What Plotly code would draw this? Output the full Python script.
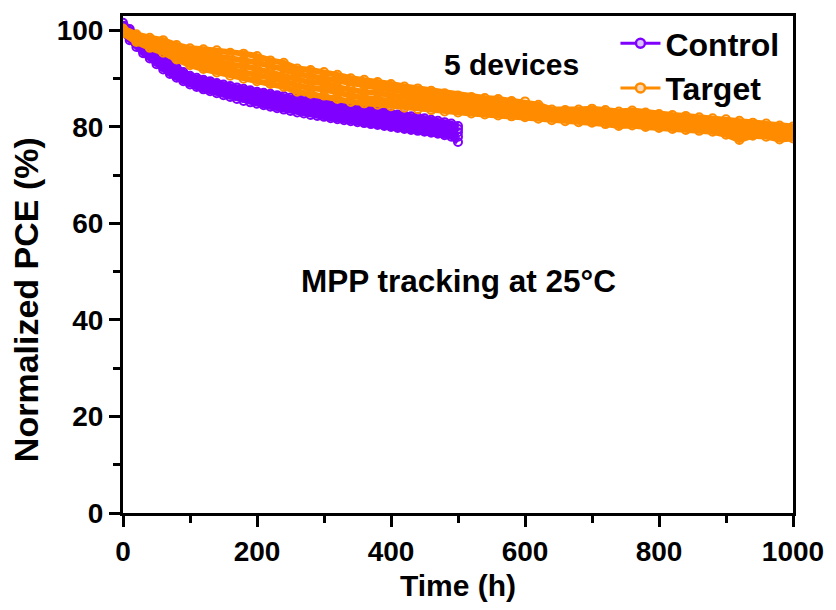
import plotly.graph_objects as go

# ---------------- data ----------------
time_control = [0, 10, 20, 30, 40, 50, 60, 70, 80, 90, 100, 110, 120, 130, 140, 150, 160, 170, 180, 190,
                200, 210, 220, 230, 240, 250, 260, 270, 280, 290, 300, 310, 320, 330, 340, 350, 360, 370, 380, 390,
                400, 410, 420, 430, 440, 450, 460, 470, 480, 490, 500]

control_1 = [101.6, 100.3, 99.0, 97.8, 96.6, 95.3, 94.2, 93.2, 92.3, 91.4, 90.6, 90.2, 89.8, 89.5, 89.1, 88.8, 88.5, 88.2, 87.9, 87.6,
             87.3, 87.1, 86.9, 86.6, 86.4, 86.1, 85.9, 85.7, 85.4, 85.2, 84.9, 84.7, 84.5, 84.2, 84.0, 83.8, 83.6, 83.4, 83.2, 83.0,
             82.8, 82.6, 82.4, 82.2, 82.0, 81.8, 81.5, 81.3, 81.0, 80.7, 80.2]
control_2 = [101.0, 99.8, 98.4, 97.2, 96.0, 94.7, 93.6, 92.7, 91.8, 90.9, 90.2, 89.7, 89.3, 89.0, 88.6, 88.2, 87.9, 87.6, 87.2, 86.9,
             86.6, 86.5, 86.2, 85.9, 85.7, 85.4, 85.2, 84.9, 84.7, 84.4, 84.2, 83.9, 83.7, 83.5, 83.3, 83.1, 82.9, 82.7, 82.5, 82.3,
             82.1, 81.9, 81.7, 81.5, 81.3, 81.1, 80.8, 80.6, 80.4, 80.1, 79.6]
control_3 = [100.5, 99.1, 97.8, 96.5, 95.4, 94.1, 93.0, 92.1, 91.2, 90.4, 89.7, 89.2, 88.8, 88.4, 88.0, 87.7, 87.3, 87.0, 86.6, 86.3,
             86.0, 85.8, 85.5, 85.2, 85.0, 84.7, 84.4, 84.2, 83.9, 83.7, 83.5, 83.2, 83.0, 82.8, 82.6, 82.4, 82.2, 82.0, 81.8, 81.6,
             81.4, 81.2, 81.0, 80.8, 80.6, 80.4, 80.1, 79.9, 79.7, 79.4, 78.9]
control_4 = [100.0, 98.5, 97.2, 95.9, 94.8, 93.5, 92.4, 91.5, 90.7, 89.9, 89.2, 88.7, 88.3, 87.9, 87.5, 87.1, 86.7, 86.4, 86.0, 85.7,
             85.4, 85.1, 84.8, 84.5, 84.3, 84.0, 83.7, 83.5, 83.2, 83.0, 82.8, 82.5, 82.3, 82.1, 81.9, 81.7, 81.5, 81.3, 81.1, 80.9,
             80.7, 80.5, 80.3, 80.1, 79.9, 79.7, 79.4, 79.2, 79.0, 78.7, 78.0]
control_5 = [99.5, 98.0, 96.6, 95.3, 94.2, 93.0, 91.9, 91.0, 90.2, 89.5, 88.8, 88.3, 87.8, 87.4, 87.0, 86.6, 86.2, 85.8, 85.4, 85.1,
             84.8, 84.5, 84.2, 83.9, 83.6, 83.3, 83.0, 82.8, 82.5, 82.3, 82.1, 81.8, 81.6, 81.4, 81.2, 81.0, 80.8, 80.6, 80.4, 80.2,
             80.0, 79.8, 79.6, 79.4, 79.2, 79.0, 78.8, 78.6, 78.3, 78.0, 76.9]

time_target = [0, 20, 40, 60, 80, 100, 120, 140, 160, 180, 200, 220, 240, 260, 280, 300, 320, 340, 360, 380,
               400, 420, 440, 460, 480, 500, 520, 540, 560, 580, 600, 620, 640, 660, 680, 700, 720, 740, 760, 780,
               800, 820, 840, 860, 880, 900, 920, 940, 960, 980, 1000]

target_1 = [100.4, 99.2, 98.5, 98.0, 97.0, 96.3, 96.1, 95.9, 95.4, 95.2, 94.7, 93.8, 93.3, 92.1, 91.8, 91.4, 90.8, 90.1, 89.8, 89.3,
            88.9, 88.4, 88.0, 87.5, 87.0, 86.5, 86.2, 86.0, 85.8, 85.4, 85.3, 84.6, 83.6, 83.5, 83.6, 83.8, 83.5, 83.2, 83.4, 83.0,
            82.7, 82.5, 82.3, 82.0, 81.8, 81.6, 81.3, 80.9, 80.7, 80.3, 80.1]
target_2 = [100.2, 98.9, 97.9, 97.3, 96.3, 95.4, 95.1, 94.7, 94.2, 93.9, 93.4, 92.6, 92.0, 91.0, 90.5, 90.2, 89.5, 88.9, 88.6, 88.2,
            87.7, 87.4, 86.8, 86.6, 86.0, 85.7, 85.3, 85.2, 84.9, 84.6, 84.4, 83.9, 83.0, 83.0, 82.9, 83.1, 82.7, 82.5, 82.5, 82.3,
            81.9, 81.8, 81.5, 81.3, 81.0, 80.8, 80.3, 80.3, 79.9, 79.6, 79.4]
target_3 = [100.0, 98.5, 97.3, 96.8, 95.4, 94.7, 94.0, 93.7, 92.9, 92.7, 92.0, 91.5, 90.7, 89.8, 89.2, 89.1, 88.2, 87.8, 87.2, 87.1,
            86.5, 86.3, 85.7, 85.6, 85.0, 84.9, 84.4, 84.4, 84.0, 83.9, 83.5, 83.2, 82.4, 82.5, 82.2, 82.5, 81.9, 81.8, 81.7, 81.6,
            81.1, 81.1, 80.7, 80.7, 80.3, 80.1, 79.2, 79.7, 79.2, 79.0, 78.7]
target_4 = [99.7, 98.0, 96.9, 96.1, 94.7, 93.8, 93.0, 92.5, 91.8, 91.3, 90.8, 90.2, 89.5, 88.6, 88.0, 87.8, 87.0, 86.5, 86.0, 85.8,
            85.4, 85.1, 84.7, 84.5, 84.1, 83.9, 83.6, 83.5, 83.2, 83.0, 82.8, 82.4, 81.9, 81.8, 81.6, 81.7, 81.2, 81.0, 81.0, 80.8,
            80.4, 80.3, 80.0, 79.9, 79.6, 79.2, 78.5, 78.9, 78.6, 78.2, 78.1]
target_5 = [99.4, 97.6, 96.4, 95.4, 94.0, 92.8, 92.0, 91.3, 90.6, 90.0, 89.5, 88.9, 88.3, 87.3, 86.9, 86.5, 85.8, 85.2, 84.9, 84.6,
            84.3, 84.0, 83.7, 83.5, 83.2, 83.0, 82.8, 82.6, 82.4, 82.2, 82.0, 81.7, 81.4, 81.2, 81.0, 80.9, 80.6, 80.2, 80.3, 80.0,
            79.8, 79.6, 79.4, 79.2, 79.0, 78.4, 77.3, 78.2, 78.0, 77.4, 77.6]

control_devices = [control_1, control_2, control_3, control_4, control_5]
target_devices = [target_1, target_2, target_3, target_4, target_5]

series_names = ["Control", "Target"]
x_ticks = [0, 200, 400, 600, 800, 1000]
y_ticks = [0, 20, 40, 60, 80, 100]

# ---------------- styles ----------------
PURPLE = "#8000FF"
ORANGE = "#FF8C00"
FONT = "Liberation Sans, Arial, sans-serif"

fig = go.Figure()


def add_group(times, devices, name, color):
    for vals in devices:
        fig.add_trace(go.Scatter(
            x=times, y=vals, name=name, showlegend=False, mode="lines+markers",
            line=dict(color=color, width=6),
            marker=dict(symbol="circle-open", size=8, color=color, line=dict(width=2, color=color)),
            cliponaxis=True,
        ))
    # legend entry (no data, legend styling only)
    fig.add_trace(go.Scatter(
        x=[None], y=[None], name=name, showlegend=True, mode="lines+markers",
        line=dict(color=color, width=3),
        marker=dict(symbol="circle", size=9, color="#F6D9B8" if color == ORANGE else "#D9C2FF",
                    line=dict(width=2.5, color=color)),
    ))


add_group(time_control, control_devices, series_names[0], PURPLE)
add_group(time_target, target_devices, series_names[1], ORANGE)

axis_common = dict(
    showline=True, linecolor="black", linewidth=3, mirror=True,
    ticks="outside", ticklen=11, tickwidth=2.5, tickcolor="black",
    showgrid=False, zeroline=False,
    tickfont=dict(family=FONT, size=28, color="black", weight="bold"),
)

fig.update_xaxes(
    range=[0, 1000], tickvals=x_ticks,
    minor=dict(dtick=100, tick0=0, ticks="outside", ticklen=7, tickwidth=2.5, tickcolor="black"),
    title=dict(text="Time (h)", font=dict(family=FONT, size=30, color="black", weight="bold"), standoff=10),
    **axis_common,
)
fig.update_yaxes(
    range=[0, 103], tickvals=y_ticks,
    minor=dict(dtick=10, tick0=0, ticks="outside", ticklen=7, tickwidth=2.5, tickcolor="black"),
    **axis_common,
)

# y-axis title placed as annotation
fig.add_annotation(xref="paper", yref="paper", x=-0.145, y=0.43, text="Normalized PCE (%)",
                   textangle=-90, showarrow=False, xanchor="center", yanchor="middle",
                   font=dict(family=FONT, size=34, color="black", weight="bold"))

fig.add_annotation(x=580, y=93, text="5 devices", showarrow=False,
                   font=dict(family=FONT, size=30, color="black", weight="bold"))
fig.add_annotation(x=500, y=48, text="MPP tracking at 25°C", showarrow=False,
                   font=dict(family=FONT, size=31.5, color="black", weight="bold"))

fig.update_layout(
    width=836, height=610,
    margin=dict(l=123, r=39, t=16, b=93),
    plot_bgcolor="white", paper_bgcolor="white",
    showlegend=True,
    legend=dict(x=0.735, y=1.0, xanchor="left", yanchor="top",
                bgcolor="rgba(0,0,0,0)", tracegroupgap=0,
                font=dict(family=FONT, size=32, color="black", weight="bold"),
                itemwidth=40),
)

fig.write_html("out.html")
